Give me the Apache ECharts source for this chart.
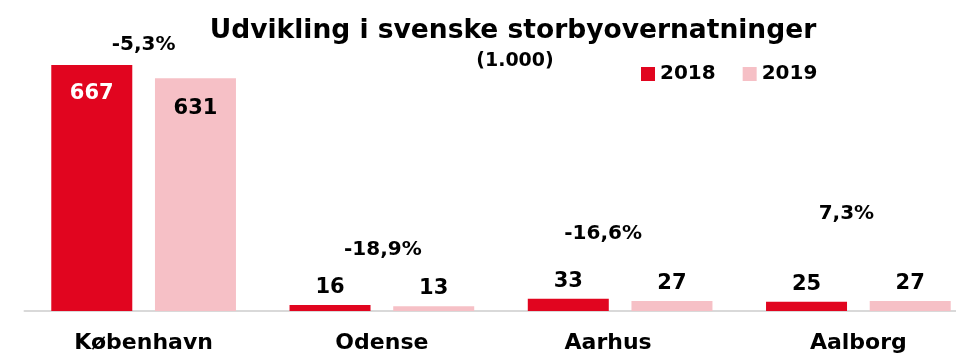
<!DOCTYPE html>
<html>
<head>
<meta charset="utf-8">
<script src="https://cdn.jsdelivr.net/npm/echarts@6/dist/echarts.min.js"></script>
<style>
  html, body { margin: 0; padding: 0; background: #fff; }
  #chart { width: 956px; height: 353px; }
</style>
</head>
<body>
<div id="chart"></div>
<script>
// Overnight stays (thousands) in the large Danish cities
const cities = ['København', 'Odense', 'Aarhus', 'Aalborg'];
const stays2018 = [667, 16, 33, 25];
const stays2019 = [631, 13, 27, 27];
const changeText = ['-5,3%', '-18,9%', '-16,6%', '7,3%'];

// Where each change label sits: height on the value axis and a horizontal nudge in px
const changeAnchor = [[721, 0], [167, 1], [209, -17], [263, -12]];

const FONT = 'DejaVu Sans';
const RED = '#e1051f';
const PINK = '#f6c0c6';
const INK = '#000';

const chart = echarts.init(document.getElementById('chart'), null, { renderer: 'canvas' });

const valueLabel = {
  show: true, position: 'top', distance: 7,
  fontFamily: FONT, fontSize: 21, fontWeight: 'bold', color: INK
};

const axisFont = { fontFamily: FONT, fontSize: 22, fontWeight: 'bold', color: INK };

chart.setOption({
  animation: false,
  textStyle: { fontFamily: FONT },
  title: [
    {
      text: 'Udvikling i svenske storbyovernatninger',
      left: 508, top: 13, textAlign: 'center',
      textStyle: { fontFamily: FONT, fontSize: 26.5, fontWeight: 'bold', color: INK }
    },
    {
      text: '(1.000)',
      left: 510, top: 47, textAlign: 'center',
      textStyle: { fontFamily: FONT, fontSize: 19, fontWeight: 'bold', color: INK }
    }
  ],
  legend: {
    data: ['2018', '2019'],
    left: 636, top: 59,
    icon: 'rect', itemWidth: 14, itemHeight: 14, itemGap: 27,
    textStyle: { fontFamily: FONT, fontSize: 20, fontWeight: 'bold', color: INK }
  },
  // the plot runs a little past the right edge of the canvas
  grid: { left: 24.5, width: 953, top: 16, bottom: 42, containLabel: false, outerBoundsMode: 'none' },
  xAxis: {
    type: 'category',
    data: cities,
    axisLine: { lineStyle: { color: '#d9d9d9', width: 2 } },
    axisTick: { show: false },
    axisLabel: Object.assign({
      margin: 21,
      formatter: v => (v === 'Aarhus' ? '{shift|' + v + '}' : v),
      rich: { shift: Object.assign({ padding: [0, 24, 0, 0] }, axisFont) }
    }, axisFont)
  },
  yAxis: { type: 'value', min: 0, max: 800, show: false, splitLine: { show: false } },
  series: [
    {
      name: '2018', type: 'bar',
      data: stays2018.map((v, i) => ({
        value: v,
        label: i === 0 ? { position: 'insideTop', distance: 18, color: '#fff' } : undefined
      })),
      barWidth: 81, barGap: '28%',
      itemStyle: { color: RED },
      label: valueLabel
    },
    {
      name: '2019', type: 'bar',
      data: stays2019.map((v, i) => ({
        value: v,
        label: i === 0 ? { position: 'insideTop', distance: 20 } : undefined
      })),
      barWidth: 81,
      itemStyle: { color: PINK },
      label: valueLabel
    }
  ]
});

// Year-on-year change labels, placed through the chart's own axes
chart.setOption({
  graphic: changeText.map((txt, i) => {
    const [x, y] = chart.convertToPixel({ gridIndex: 0 }, [i, changeAnchor[i][0]]);
    return {
      type: 'text', silent: true,
      x: x + changeAnchor[i][1], y: y,
      style: {
        text: txt, align: 'center', verticalAlign: 'middle',
        fontFamily: FONT, fontSize: 20, fontWeight: 'bold', fill: INK
      }
    };
  })
});
</script>
</body>
</html>
